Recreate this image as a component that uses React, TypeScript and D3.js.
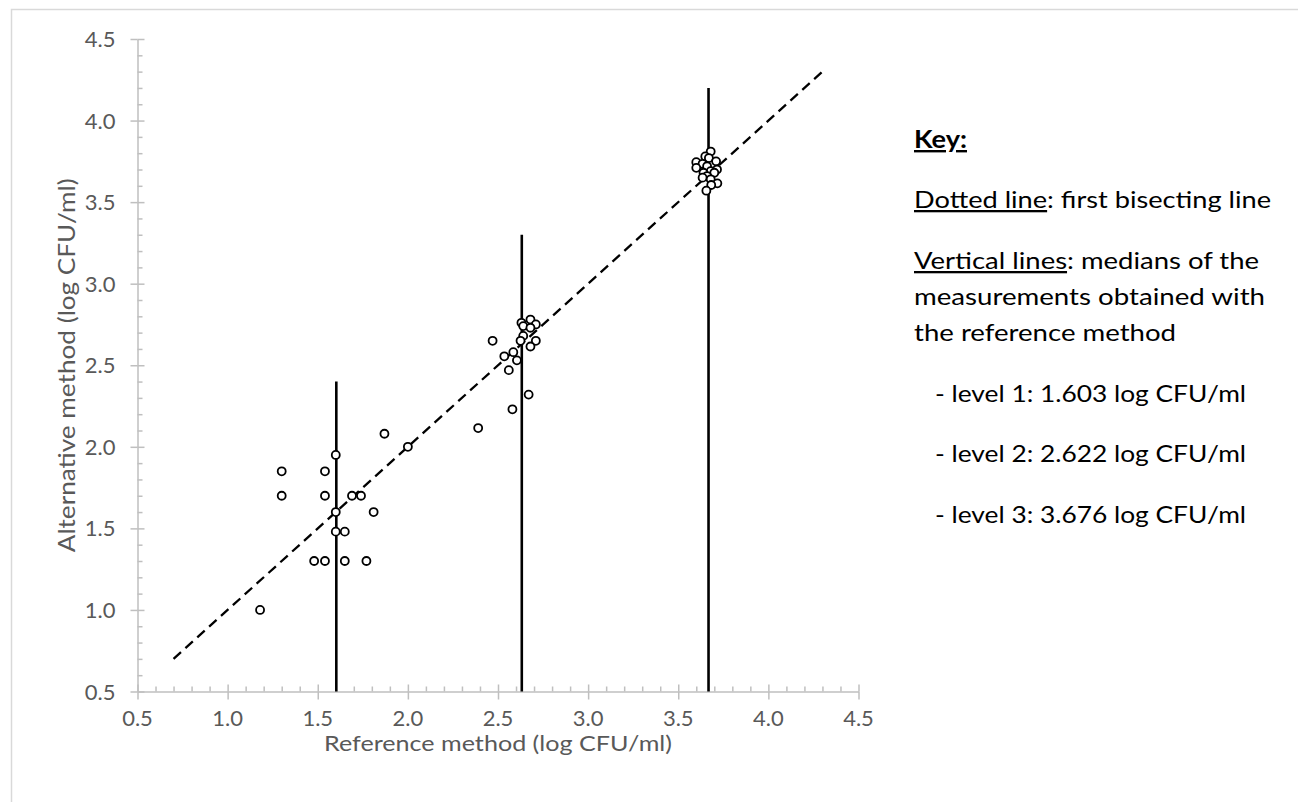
import React, { useEffect, useRef } from "react";
import * as d3 from "d3";

const WIDTH = 1298;
const HEIGHT = 802;

// axis ticks (both axes share the same scale values)
const tickValues = [0.5, 1.0, 1.5, 2.0, 2.5, 3.0, 3.5, 4.0, 4.5];
const minorTicks = [
  0.6, 0.7, 0.8, 0.9, 1.1, 1.2, 1.3, 1.4, 1.6, 1.7, 1.8, 1.9, 2.1, 2.2, 2.3, 2.4,
  2.6, 2.7, 2.8, 2.9, 3.1, 3.2, 3.3, 3.4, 3.6, 3.7, 3.8, 3.9, 4.1, 4.2, 4.3, 4.4,
];

// [reference method, alternative method]  (log CFU/ml)
const level1 = [
  [1.87, 2.08], [2.0, 2.0], [1.6, 1.95], [1.3, 1.85], [1.54, 1.85],
  [1.3, 1.7], [1.54, 1.7], [1.69, 1.7], [1.74, 1.7], [1.6, 1.6],
  [1.81, 1.6], [1.6, 1.48], [1.65, 1.48], [1.48, 1.3], [1.54, 1.3],
  [1.65, 1.3], [1.77, 1.3], [1.18, 1.0],
];
const level2 = [
  [2.47, 2.65], [2.63, 2.76], [2.68, 2.78], [2.71, 2.75], [2.64, 2.74],
  [2.68, 2.73], [2.64, 2.68], [2.625, 2.65], [2.71, 2.65], [2.68, 2.615],
  [2.585, 2.58], [2.535, 2.555], [2.605, 2.53], [2.56, 2.47], [2.67, 2.32],
  [2.58, 2.23], [2.39, 2.115],
];
const level3 = [
  [3.68, 3.81], [3.65, 3.78], [3.67, 3.77], [3.6, 3.745], [3.71, 3.75],
  [3.635, 3.735], [3.66, 3.72], [3.6, 3.71], [3.715, 3.7], [3.68, 3.69],
  [3.64, 3.68], [3.7, 3.68], [3.66, 3.66], [3.635, 3.65], [3.68, 3.64],
  [3.717, 3.615], [3.683, 3.605], [3.656, 3.57],
];

const medians = [1.603, 2.632, 3.668];
const medianTops = [2.4, 3.3, 4.2];
const bisector = [0.7, 4.3];

const xTitle = "Reference method (log CFU/ml)";
const yTitle = "Alternative method (log CFU/ml)";

// key text: [underlined part, rest]
const keyLines = [
  ["Dotted line", ": first bisecting line"],
  ["Vertical lines", ": medians of the"],
  ["", "measurements obtained with"],
  ["", "the reference method"],
];
const levelLines = [
  "- level 1: 1.603 log CFU/ml",
  "- level 2: 2.622 log CFU/ml",
  "- level 3: 3.676 log CFU/ml",
];

const FONT = "Lato, 'Open Sans', sans-serif";

const App = () => {
  const svgRef = useRef(null);

  useEffect(() => {
    const svg = d3.select(svgRef.current);
    svg.selectAll("*").remove();

    const x = d3.scaleLinear().domain([0.5, 4.5]).range([137.5, 858.5]);
    const y = d3.scaleLinear().domain([0.5, 4.5]).range([691.5, 39]);
    const fmt = d3.format(".1f");

    // chart frame (runs off the page at right / bottom)
    svg
      .append("rect")
      .attr("x", 11.5)
      .attr("y", 9.5)
      .attr("width", 1400)
      .attr("height", 900)
      .attr("fill", "none")
      .attr("stroke", "#d9d9d9")
      .attr("stroke-width", 1.5);

    const axisColor = "#bfbfbf";
    const styleAxis = (g) => {
      g.select(".domain").attr("stroke", axisColor).attr("stroke-width", 1.5);
      g.selectAll(".tick line").attr("stroke", axisColor).attr("stroke-width", 1.5);
    };

    // y axis: major ticks cross the axis, minor ticks inside
    const gy = svg.append("g").attr("transform", `translate(${x(0.5)},0)`);
    gy.append("g")
      .call(d3.axisLeft(y).tickValues(tickValues).tickSize(7).tickSizeOuter(0).tickFormat(() => ""))
      .call(styleAxis);
    gy.append("g")
      .call(d3.axisRight(y).tickValues(tickValues).tickSize(7).tickSizeOuter(0).tickFormat(() => ""))
      .call(styleAxis);
    gy.append("g")
      .call(d3.axisRight(y).tickValues(minorTicks).tickSize(5).tickSizeOuter(0).tickFormat(() => ""))
      .call(styleAxis);
    gy.selectAll(".domain").filter((d, i) => i > 0).remove();

    // x axis
    const gx = svg.append("g").attr("transform", `translate(0,${y(0.5)})`);
    gx.append("g")
      .call(d3.axisBottom(x).tickValues(tickValues).tickSize(8).tickSizeOuter(0).tickFormat(() => ""))
      .call(styleAxis);
    gx.append("g")
      .call(d3.axisTop(x).tickValues(tickValues).tickSize(7).tickSizeOuter(0).tickFormat(() => ""))
      .call(styleAxis);
    gx.append("g")
      .call(d3.axisTop(x).tickValues(minorTicks).tickSize(5).tickSizeOuter(0).tickFormat(() => ""))
      .call(styleAxis);
    gx.selectAll(".domain").filter((d, i) => i > 0).remove();

    // tick labels
    const labels = svg
      .append("g")
      .attr("fill", "#595959")
      .attr("font-family", FONT)
      .attr("font-size", 22);
    labels
      .selectAll(".ylab")
      .data(tickValues)
      .join("text")
      .attr("class", "ylab")
      .attr("x", x(0.5) - 22)
      .attr("y", (d) => y(d) + 8)
      .attr("text-anchor", "end")
      .text(fmt);
    labels
      .selectAll(".xlab")
      .data(tickValues)
      .join("text")
      .attr("class", "xlab")
      .attr("x", (d) => x(d))
      .attr("y", y(0.5) + 34)
      .attr("text-anchor", "middle")
      .text(fmt);

    // axis titles
    svg
      .append("text")
      .attr("x", (x(0.5) + x(4.5)) / 2)
      .attr("y", 751)
      .attr("text-anchor", "middle")
      .attr("fill", "#595959")
      .attr("font-family", FONT)
      .attr("font-size", 21)
      .attr("textLength", 348)
      .attr("lengthAdjust", "spacingAndGlyphs")
      .text(xTitle);

    svg
      .append("text")
      .attr("transform", `translate(75,${(y(0.5) + y(4.5)) / 2}) rotate(-90)`)
      .attr("text-anchor", "middle")
      .attr("fill", "#595959")
      .attr("font-family", FONT)
      .attr("font-size", 23)
      .attr("textLength", 374)
      .attr("lengthAdjust", "spacingAndGlyphs")
      .text(yTitle);

    // first bisecting line
    svg
      .append("line")
      .attr("x1", x(bisector[0]))
      .attr("y1", y(bisector[0]))
      .attr("x2", x(bisector[1]))
      .attr("y2", y(bisector[1]))
      .attr("stroke", "#000")
      .attr("stroke-width", 2.3)
      .attr("stroke-dasharray", "10,6");

    // median lines
    svg
      .selectAll(".median")
      .data(medians)
      .join("line")
      .attr("class", "median")
      .attr("x1", (d) => x(d))
      .attr("x2", (d) => x(d))
      .attr("y1", y(0.5))
      .attr("y2", (d, i) => y(medianTops[i]))
      .attr("stroke", "#000")
      .attr("stroke-width", 2.6);

    // data points
    const points = [...level1, ...level2, ...level3];
    svg
      .selectAll(".pt")
      .data(points)
      .join("circle")
      .attr("class", "pt")
      .attr("cx", (d) => x(d[0]))
      .attr("cy", (d) => y(d[1]))
      .attr("r", 4)
      .attr("fill", "#fff")
      .attr("stroke", "#000")
      .attr("stroke-width", 1.8);

    // key
    const key = svg.append("g").attr("font-family", FONT).attr("fill", "#000");
    key
      .append("text")
      .attr("x", 914)
      .attr("y", 148)
      .attr("font-size", 24)
      .attr("font-weight", "bold")
      .style("text-decoration", "underline")
      .attr("textLength", 53)
      .attr("lengthAdjust", "spacingAndGlyphs")
      .text("Key:");

    const keyY = [208, 269, 305, 341];
    const keyLen = [357, 345, 351, 262];
    keyLines.forEach(([u, rest], i) => {
      const t = key
        .append("text")
        .attr("x", 914)
        .attr("y", keyY[i])
        .attr("font-size", 23)
        .attr("textLength", keyLen[i])
        .attr("lengthAdjust", "spacingAndGlyphs");
      if (u) t.append("tspan").style("text-decoration", "underline").text(u);
      t.append("tspan").text(rest);
    });

    const levelY = [402, 462, 523];
    levelLines.forEach((s, i) => {
      key
        .append("text")
        .attr("x", 935)
        .attr("y", levelY[i])
        .attr("font-size", 23)
        .attr("textLength", 311)
        .attr("lengthAdjust", "spacingAndGlyphs")
        .text(s);
    });
  }, []);

  return (
    <svg
      ref={svgRef}
      width={WIDTH}
      height={HEIGHT}
      style={{ position: "absolute", left: 0, top: 0, background: "#fff" }}
    ></svg>
  );
};

export default App;
